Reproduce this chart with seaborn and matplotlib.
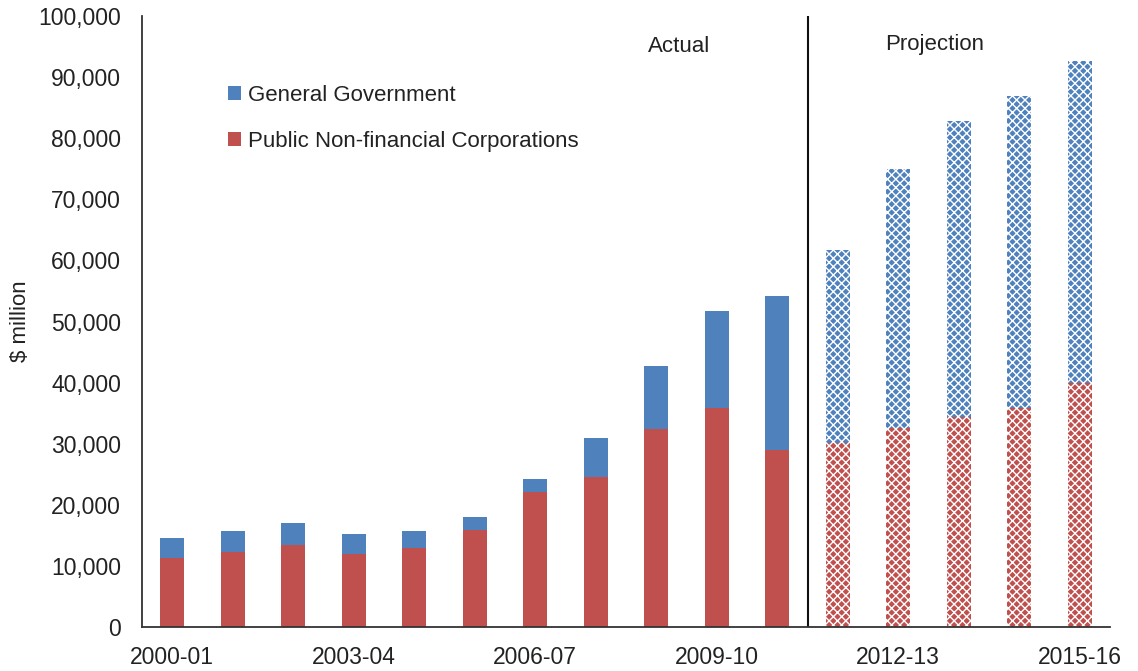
import matplotlib
matplotlib.use("Agg")
import matplotlib.pyplot as plt
import seaborn as sns
import pandas as pd
from matplotlib.patches import Patch

years = ["2000-01", "2001-02", "2002-03", "2003-04", "2004-05", "2005-06",
         "2006-07", "2007-08", "2008-09", "2009-10", "2010-11", "2011-12",
         "2012-13", "2013-14", "2014-15", "2015-16"]
pnfc = [11300, 12200, 13400, 12000, 13000, 15800, 22100, 24600, 32400,
        35800, 29000, 30100, 32600, 34300, 35900, 39900]
general_gov = [3200, 3500, 3600, 3200, 2700, 2200, 2200, 6400, 10300,
               16000, 25200, 31600, 42400, 48500, 51000, 52700]
tick_labels = ["2000-01", "2003-04", "2006-07", "2009-10", "2012-13", "2015-16"]
n_actual = 11

blue = "#4F81BD"
red = "#C0504D"

sns.set_theme(style="white")
plt.rcParams["font.family"] = ["Liberation Sans", "DejaVu Sans"]
plt.rcParams["hatch.linewidth"] = 1.0

totals = [a + b for a, b in zip(pnfc, general_gov)]
df = pd.DataFrame({"year": years, "pnfc": pnfc, "total": totals})

fig = plt.figure(figsize=(11.38, 6.71), dpi=100)
ax = fig.add_axes([0.1248, 0.0656, 0.8506, 0.9104])

sns.barplot(data=df, x="year", y="total", color=blue, saturation=1,
            width=0.4, ax=ax, linewidth=0)
sns.barplot(data=df, x="year", y="pnfc", color=red, saturation=1,
            width=0.4, ax=ax, linewidth=0)

n = len(years)
for i, p in enumerate(ax.patches):
    idx = i % n
    if idx >= n_actual:
        p.set_hatch("xxxx")
        p.set_edgecolor("white")
        p.set_linewidth(0)

ax.set_xlim(-0.5, n - 0.5)
ax.set_ylim(0, 100000)
ax.set_yticks(range(0, 100001, 10000))
ax.set_yticklabels([f"{v:,}" for v in range(0, 100001, 10000)], fontsize=16.5, color="#222222")
ax.set_xticks([years.index(t) for t in tick_labels])
ax.set_xticklabels(tick_labels, fontsize=16.5, color="#222222")
ax.tick_params(axis="y", length=0, pad=15)
ax.tick_params(axis="x", length=0, pad=14)
ax.set_xlabel("")
ax.set_ylabel("$ million", fontsize=16, color="#222222", labelpad=5)

for s in ["top", "right"]:
    ax.spines[s].set_visible(False)
for s in ["left", "bottom"]:
    ax.spines[s].set_color("#333333")
    ax.spines[s].set_linewidth(1.3)

ax.axvline(n_actual - 0.5, color="#111111", linewidth=1.5)

ax.text(8.38, 95000, "Actual", fontsize=16, ha="center", va="center", color="#222222")
ax.text(12.6, 95300, "Projection", fontsize=16, ha="center", va="center", color="#222222")

handles = [Patch(facecolor=blue, edgecolor="none", label="General Government"),
           Patch(facecolor=red, edgecolor="none", label="Public Non-financial Corporations")]
ax.legend(handles=handles, loc="upper left", bbox_to_anchor=(0.068, 0.92),
          frameon=False, fontsize=16, handlelength=0.6, handleheight=0.6,
          handletextpad=0.3, labelspacing=1.12, labelcolor="#222222")

fig.savefig("out.png", dpi=100)
